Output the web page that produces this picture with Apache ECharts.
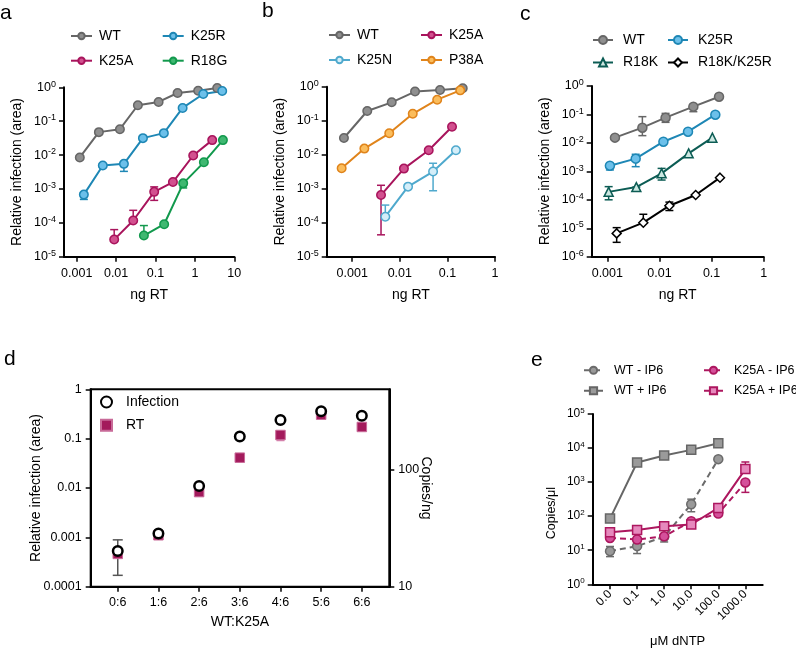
<!DOCTYPE html>
<html><head><meta charset="utf-8">
<script src="https://cdn.jsdelivr.net/npm/echarts@6/dist/echarts.min.js"></script>
<style>html,body{margin:0;padding:0;background:#fff}#c{width:796px;height:653px}</style>
</head><body><div id="c"></div>
<script>
// ---------------- DATA ----------------
// Panel a
const aX_WT   = [0.0012, 0.00366, 0.0125, 0.0357, 0.12, 0.363, 1.21, 3.68];
const aY_WT   = [0.0085, 0.0475, 0.058, 0.295, 0.37, 0.68, 0.79, 0.95];
const aX_K25R = [0.00152, 0.0046, 0.0158, 0.048, 0.163, 0.488, 1.63, 4.93];
const aY_K25R = [0.00068, 0.0049, 0.0055, 0.0316, 0.0444, 0.246, 0.635, 0.78];
const aX_K25A = [0.00895, 0.0272, 0.0927, 0.277, 0.906, 2.75];
const aY_K25A = [3.2e-5, 1.17e-4, 8.2e-4, 1.6e-3, 0.0097, 0.0276];
const aX_R18G = [0.0508, 0.166, 0.505, 1.69, 5.14];
const aY_R18G = [4.2e-5, 9.1e-5, 1.46e-3, 6.1e-3, 0.0276];
const aErr_WT   = [[0.00366, 0.042, 0.0475]];
const aErr_K25R = [[0.00152, 4.9e-4, 6.8e-4], [0.0158, 3.3e-3, 0.0055]];
const aErr_K25A = [[0.00895, 3.2e-5, 6.3e-5], [0.0272, 1.17e-4, 2.34e-4], [0.0927, 4.6e-4, 1.15e-3]];
const aErr_R18G = [[0.0508, 4.2e-5, 8.3e-5], [0.505, 1.07e-3, 1.46e-3]];
// Panel b
const bX_WT   = [6.7e-4, 0.00207, 0.00676, 0.0209, 0.07, 0.21];
const bY_WT   = [0.031, 0.193, 0.347, 0.72, 0.8, 0.9];
const bX_P38A = [6.0e-4, 0.0018, 0.006, 0.0187, 0.061, 0.186];
const bY_P38A = [0.004, 0.0151, 0.0426, 0.16, 0.415, 0.78];
const bX_K25A = [0.00403, 0.0122, 0.0405, 0.125];
const bY_K25A = [6.5e-4, 0.0039, 0.0135, 0.0667];
const bX_K25N = [0.00496, 0.0149, 0.05, 0.151];
const bY_K25N = [1.5e-4, 1.15e-3, 3.2e-3, 0.0135];
const bErr_K25A = [[0.00403, 4.4e-5, 1.26e-3]];
const bErr_K25N = [[0.00496, 1.5e-4, 3.3e-4], [0.05, 8.7e-4, 5.6e-3]];
// Panel c
const cX_WT   = [0.0014, 0.0047, 0.0131, 0.0447, 0.139];
const cY_WT   = [0.0153, 0.0343, 0.077, 0.188, 0.42];
const cX_K25R = [0.00112, 0.0035, 0.0119, 0.0353, 0.118];
const cY_K25R = [1.58e-3, 2.8e-3, 0.011, 0.0248, 0.098];
const cX_R18K = [0.00106, 0.0036, 0.011, 0.0363, 0.1035];
const cY_R18K = [1.9e-4, 2.8e-4, 8.5e-4, 4.3e-3, 0.0153];
const cX_DBL  = [0.00151, 0.0049, 0.0155, 0.0495, 0.145];
const cY_DBL  = [6.6e-6, 1.57e-5, 6.2e-5, 1.47e-4, 6.0e-4];
const cErr_WT   = [[0.0047, 0.018, 0.0836], [0.0131, 0.0528, 0.109], [0.0447, 0.125, 0.188]];
const cErr_K25R = [[0.00112, 1.12e-3, 1.58e-3], [0.0035, 1.46e-3, 3.98e-3]];
const cErr_R18K = [[0.00106, 1.0e-4, 2.9e-4], [0.0036, 2.2e-4, 2.8e-4], [0.011, 4.95e-4, 1.27e-3]];
const cErr_DBL  = [[0.00151, 3.2e-6, 1.05e-5], [0.0049, 1.57e-5, 3.1e-5], [0.0155, 4.2e-5, 8.3e-5]];
// Panel d
const dCats = ['0:6', '1:6', '2:6', '3:6', '4:6', '5:6', '6:6'];
const dInfection = [5.3e-4, 0.0012, 0.011, 0.111, 0.24, 0.36, 0.29];
const dRT = [19.1, 27.6, 64.7, 127.6, 199.6, 298, 234];
const dErr_Inf = [[0, 1.7e-4, 8.9e-4]];
const dErr_RT  = [[4, 179, 211]];
// Panel e
const eDoses = ['0.0', '0.1', '1.0', '10.0', '100.0', '1000.0'];
const eWTminus   = [9.4, 13.2, 25, 224, 4730];
const eWTplus    = [85, 3770, 6030, 8850, 13900];
const eK25Aminus = [23, 20.7, 25.7, 71, 119, 980];
const eK25Aplus  = [34, 39, 51, 57, 175, 2415];
const eErr_WTminus   = [[0, 6.5, 12.9], [1, 8.0, 17.4], [2, 17.5, 25], [3, 135, 316]];
const eErr_K25Aminus = [[5, 500, 980]];
const eErr_K25Aplus  = [[5, 2415, 3900]];
// tick values
const yTicksA = [1e-5, 1e-4, 1e-3, 1e-2, 1e-1, 1];
const xTicksA = [0.001, 0.01, 0.1, 1, 10];
const xTicksB = [0.001, 0.01, 0.1, 1];
const yTicksC = [1e-6, 1e-5, 1e-4, 1e-3, 1e-2, 1e-1, 1];
const yTicksD = [1e-4, 1e-3, 1e-2, 1e-1, 1];
const y2TicksD = [10, 100];
const xTicksD = [0, 1, 2, 3, 4, 5, 6];
const yTicksE = [1, 10, 100, 1e3, 1e4, 1e5];
const xTicksE = [0, 1, 2, 3, 4, 5];

// ---------------- STYLE ----------------
const FONT = '"Liberation Sans", Arial, Helvetica, sans-serif';
const C = {
  WT:   {fill: '#8f8f8f', line: '#666666'},
  K25R: {fill: '#6cc0ea', line: '#1e87b5'},
  K25A: {fill: '#d2508f', line: '#a8145c'},
  R18G: {fill: '#3fb871', line: '#12994d'},
  K25N: {fill: '#d4eef9', line: '#4fa9cd'},
  P38A: {fill: '#fbbd5c', line: '#e0841b'},
  R18K: {fill: '#cde8e2', line: '#0c5c54'},
  DBL:  {fill: '#ffffff', line: '#000000'}
};

function zip(xs, ys) { return xs.map((x, i) => [x, ys[i]]); }
function idx(ys) { return ys.map((y, i) => [i, y]); }
function expOf(v) { return Math.round(Math.log10(v)); }
function supFmt(v) { return '{b|10}{s|' + expOf(v) + '}'; }
function decFmt(v) { const e = expOf(v); return e < 0 ? Number(Math.pow(10, e)).toFixed(-e) : String(Math.round(Math.pow(10, e))); }
function supRich(fs) {
  return {
    b: {fontSize: fs, fontFamily: FONT, color: '#000', lineHeight: fs + 3},
    s: {fontSize: Math.round(fs * 0.7), fontFamily: FONT, color: '#000', verticalAlign: 'top', lineHeight: Math.round(fs * 0.7)}
  };
}

function axis(o) {
  return {
    type: o.type, gridIndex: o.grid, position: o.position, min: o.min, max: o.max,
    name: o.name || '', nameLocation: 'middle', nameGap: o.nameGap || 30,
    nameRotate: o.nameRotate, nameMoveOverlap: false,
    nameTextStyle: {color: '#000', fontFamily: FONT, fontSize: o.nameSize || 14, padding: o.namePad || 0},
    axisLine: {show: true, onZero: false, lineStyle: {color: '#000', width: 2}},
    axisTick: {show: true, length: 5, inside: false, lineStyle: {color: '#000', width: 1.5}, customValues: o.ticks},
    minorTick: {show: false}, splitLine: {show: false}, splitArea: {show: false},
    axisLabel: {show: true, color: '#000', fontFamily: FONT, fontSize: o.fs || 12.5, margin: o.margin || 8,
      customValues: o.ticks, formatter: o.fmt, rich: o.rich, rotate: o.rotate || 0, hideOverlap: false},
    silent: true
  };
}

function lineS(name, data, gi, yi, col, sty) {
  sty = sty || {};
  return {
    type: 'line', name, data, xAxisIndex: gi, yAxisIndex: yi,
    symbol: sty.symbol || 'circle', symbolSize: sty.size || 8.5,
    lineStyle: {color: col.line, width: 2, type: sty.dash ? [6, 4] : 'solid'},
    itemStyle: {color: col.fill, borderColor: col.line, borderWidth: sty.bw || 1.5},
    z: 3, animation: false, emphasis: {disabled: true}, silent: true
  };
}
function scatterS(name, data, gi, yi, sty) {
  return {
    type: 'scatter', name, data, xAxisIndex: gi, yAxisIndex: yi,
    symbol: sty.symbol, symbolSize: sty.size,
    itemStyle: {color: sty.fill, borderColor: sty.line, borderWidth: sty.bw, opacity: 1},
    z: 3, animation: false, emphasis: {disabled: true}, silent: true
  };
}
function errS(rows, color, gi, yi, capW) {
  return {
    type: 'custom', xAxisIndex: gi, yAxisIndex: yi, data: rows, z: 2, silent: true, animation: false,
    encode: {x: 0, y: [1, 2]},
    renderItem: function (params, api) {
      const x = api.value(0), lo = api.value(1), hi = api.value(2);
      const a = api.coord([x, lo]), b = api.coord([x, hi]);
      const h = capW / 2;
      const st = {stroke: color, lineWidth: 1.5, fill: null};
      return {type: 'group', children: [
        {type: 'line', shape: {x1: a[0], y1: a[1], x2: b[0], y2: b[1]}, style: st},
        {type: 'line', shape: {x1: a[0] - h, y1: a[1], x2: a[0] + h, y2: a[1]}, style: st},
        {type: 'line', shape: {x1: b[0] - h, y1: b[1], x2: b[0] + h, y2: b[1]}, style: st}
      ]};
    }
  };
}
function legendCol(names, left, top, gap, iw, ih, fs, padL) {
  return {
    orient: 'vertical', left, top, itemGap: gap, itemWidth: iw, itemHeight: ih, padding: 0,
    data: names, selectedMode: false,
    textStyle: {fontFamily: FONT, fontSize: fs, color: '#000', lineHeight: fs + 2, padding: [0, 0, 0, padL]}
  };
}

const grids = [
  {left: 64, top: 87.3, width: 170.3, height: 169.4},
  {left: 326.7, top: 86.7, width: 168.3, height: 170},
  {left: 591.7, top: 86, width: 172, height: 170.7},
  {left: 90.7, top: 389.3, width: 298.6, height: 197.4, show: true, borderColor: '#000', borderWidth: 2, backgroundColor: 'transparent'},
  {left: 592.7, top: 414, width: 170, height: 170.3}
].map(g => Object.assign({containLabel: false, outerBoundsMode: 'none'}, g));

const xAxes = [
  axis({type: 'log', grid: 0, min: Math.pow(10, -3.322), max: 10, ticks: xTicksA, fmt: decFmt, name: 'ng RT', nameGap: 31, margin: 10}),
  axis({type: 'log', grid: 1, min: Math.pow(10, -3.536), max: 1, ticks: xTicksB, fmt: decFmt, name: 'ng RT', nameGap: 31, margin: 10}),
  axis({type: 'log', grid: 2, min: Math.pow(10, -3.30), max: 1, ticks: xTicksB, fmt: decFmt, name: 'ng RT', nameGap: 31, margin: 10}),
  axis({type: 'value', grid: 3, min: -0.665, max: 6.675, ticks: xTicksD, fmt: v => dCats[Math.round(v)], name: 'WT:K25A', nameGap: 28, margin: 9}),
  axis({type: 'value', grid: 4, min: -0.64, max: 5.64, ticks: xTicksE, fmt: v => eDoses[Math.round(v)], name: 'μM dNTP', nameGap: 51, nameSize: 13, rotate: 45, fs: 12, margin: 8})
];
const yAxes = [
  axis({type: 'log', grid: 0, min: 1e-5, max: 1, ticks: yTicksA, fmt: supFmt, rich: supRich(12.5), name: 'Relative infection (area)', nameGap: 40}),
  axis({type: 'log', grid: 1, min: 1e-5, max: 1, ticks: yTicksA, fmt: supFmt, rich: supRich(12.5), name: 'Relative infection (area)', nameGap: 40}),
  axis({type: 'log', grid: 2, min: 1e-6, max: 1, ticks: yTicksC, fmt: supFmt, rich: supRich(12.5), name: 'Relative infection (area)', nameGap: 40}),
  axis({type: 'log', grid: 3, min: 1e-4, max: 1, ticks: yTicksD, fmt: decFmt, name: 'Relative infection (area)', nameGap: 48, margin: 9}),
  axis({type: 'log', grid: 4, min: 1, max: 1e5, ticks: yTicksE, fmt: supFmt, rich: supRich(12), name: 'Copies/μl', nameGap: 35, nameSize: 12.5, namePad: [0, 28, 0, 0]}),
  axis({type: 'log', grid: 3, position: 'right', min: 10, max: 492, ticks: y2TicksD, fmt: decFmt, name: 'Copies/ng', nameGap: 30, nameRotate: -90, margin: 9})
];

const series = [
  // a
  errS(aErr_WT, C.WT.line, 0, 0, 8), errS(aErr_K25R, C.K25R.line, 0, 0, 8),
  errS(aErr_K25A, C.K25A.line, 0, 0, 8), errS(aErr_R18G, C.R18G.line, 0, 0, 8),
  lineS('WT', zip(aX_WT, aY_WT), 0, 0, C.WT),
  lineS('K25R', zip(aX_K25R, aY_K25R), 0, 0, C.K25R),
  lineS('K25A', zip(aX_K25A, aY_K25A), 0, 0, C.K25A),
  lineS('R18G', zip(aX_R18G, aY_R18G), 0, 0, C.R18G),
  // b
  errS(bErr_K25A, C.K25A.line, 1, 1, 8), errS(bErr_K25N, C.K25N.line, 1, 1, 8),
  lineS('WT', zip(bX_WT, bY_WT), 1, 1, C.WT),
  lineS('P38A', zip(bX_P38A, bY_P38A), 1, 1, C.P38A),
  lineS('K25A', zip(bX_K25A, bY_K25A), 1, 1, C.K25A),
  lineS('K25N', zip(bX_K25N, bY_K25N), 1, 1, C.K25N),
  // c
  errS(cErr_WT, C.WT.line, 2, 2, 8), errS(cErr_K25R, C.K25R.line, 2, 2, 8),
  errS(cErr_R18K, C.R18K.line, 2, 2, 8), errS(cErr_DBL, C.DBL.line, 2, 2, 8),
  lineS('WT', zip(cX_WT, cY_WT), 2, 2, C.WT, {size: 9}),
  lineS('K25R', zip(cX_K25R, cY_K25R), 2, 2, C.K25R, {size: 9}),
  lineS('R18K', zip(cX_R18K, cY_R18K), 2, 2, C.R18K, {symbol: 'triangle', size: 9}),
  lineS('R18K/K25R', zip(cX_DBL, cY_DBL), 2, 2, C.DBL, {symbol: 'diamond', size: 9}),
  // d
  errS(dErr_Inf, '#555555', 3, 3, 10), errS(dErr_RT, '#d98ab2', 3, 5, 8),
  scatterS('RT', idx(dRT), 3, 5, {symbol: 'rect', size: 9.5, fill: '#a31a5c', line: '#c86a98', bw: 1}),
  scatterS('Infection', idx(dInfection), 3, 3, {symbol: 'circle', size: 9.5, fill: '#ffffff', line: '#000000', bw: 2.5}),
  // e
  errS(eErr_WTminus, '#6b6b6b', 4, 4, 8), errS(eErr_K25Aminus, '#ad175f', 4, 4, 8), errS(eErr_K25Aplus, '#ad175f', 4, 4, 8),
  lineS('WT - IP6', idx(eWTminus), 4, 4, {fill: '#999999', line: '#6b6b6b'}, {dash: true, size: 9}),
  lineS('WT + IP6', idx(eWTplus), 4, 4, {fill: '#9a9a9a', line: '#666666'}, {symbol: 'rect', size: 9}),
  lineS('K25A - IP6', idx(eK25Aminus), 4, 4, {fill: '#d4509a', line: '#ad175f'}, {dash: true, size: 9}),
  lineS('K25A + IP6', idx(eK25Aplus), 4, 4, {fill: '#e689bd', line: '#ad175f'}, {symbol: 'rect', size: 9})
];

const legends = [
  legendCol(['WT', 'K25A'], 70, 28, 8.7, 21, 8, 14, 2),
  legendCol(['K25R', 'R18G'], 161.7, 28, 8.7, 21, 8, 14, 2),
  legendCol(['WT', 'K25N'], 328, 27, 9, 21, 8, 14, 2),
  legendCol(['K25A', 'P38A'], 420, 27, 9, 21, 8, 14, 2),
  legendCol(['WT', 'R18K'], 592, 32, 6.5, 20, 10, 14, 5),
  legendCol(['K25R', 'R18K/K25R'], 667, 32, 6.5, 20, 10, 14, 5),
  legendCol(['Infection', 'RT'], 100, 394, 7.3, 11, 11, 14, 9),
  legendCol(['WT - IP6', 'WT + IP6'], 583, 363, 6, 19, 9, 12.5, 6),
  legendCol(['K25A - IP6', 'K25A + IP6'], 703, 363, 6, 19, 9, 12.5, 6)
];

function letter(t, x, y) {
  return {type: 'text', left: x, top: y, silent: true,
    style: {text: t, fontSize: 21, fontFamily: FONT, fill: '#000'}};
}

const chart = echarts.init(document.getElementById('c'), null, {renderer: 'canvas', width: 796, height: 653});
chart.setOption({
  backgroundColor: '#ffffff',
  animation: false,
  textStyle: {fontFamily: FONT},
  grid: grids, xAxis: xAxes, yAxis: yAxes, legend: legends, series,
  tooltip: {show: false},
  graphic: [letter('a', 0, 3), letter('b', 262, 1), letter('c', 520, 4), letter('d', 4, 349), letter('e', 531, 350)]
});
</script></body></html>
